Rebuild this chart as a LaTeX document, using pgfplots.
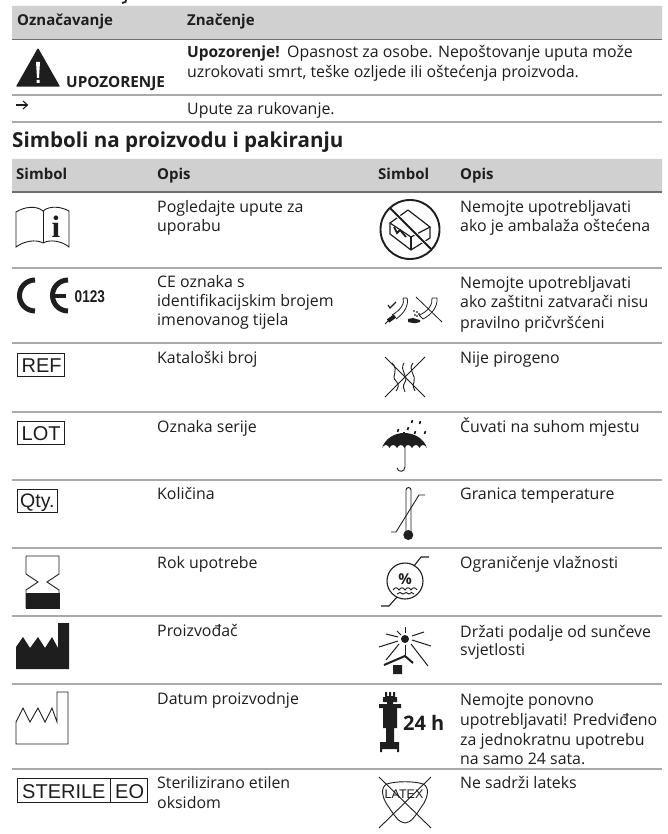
\documentclass[border=0pt]{standalone}
\usepackage{fontspec}
\setmainfont{Open Sans}
\newfontfamily\arialf{Liberation Sans}
\newfontfamily\serf{Liberation Serif}
\usepackage{pgfplots}
\pgfplotsset{compat=1.18}
\definecolor{band}{HTML}{D0D0D0}
\definecolor{rule}{HTML}{A9A9A9}
\definecolor{rulet}{HTML}{6E6E6E}
\definecolor{ink}{HTML}{1E1E1E}
\newcommand{\T}[3]{\node[anchor=base west,inner sep=0pt,text=ink,font=\fontsize{15.9}{17}\selectfont] at (axis cs:#1,#2) {#3};}
\newcommand{\B}[3]{\node[anchor=base west,inner sep=0pt,text=ink,font=\fontsize{15}{17}\selectfont\bfseries] at (axis cs:#1,#2) {#3};}
\newcommand{\A}[4]{\node[anchor=base west,inner sep=0pt,text=ink,font=\fontsize{#3}{#3}\selectfont\arialf] at (axis cs:#1,#2) {#4};}
\newcommand{\RR}[1]{\addplot[rule,line width=1.2pt] coordinates {(12,#1)(662,#1)};}
\begin{document}
\begin{tikzpicture}
\begin{axis}[hide axis,scale only axis,width=668pt,height=834pt,xmin=0,xmax=668,ymin=0,ymax=834,y dir=reverse,axis on top=false]
% page
\addplot[fill=white,draw=none] coordinates {(0,0)(668,0)(668,834)(0,834)(0,0)};
% bands
\addplot[fill=band,draw=none] coordinates {(12,6)(662,6)(662,39)(12,39)(12,6)};
\addplot[fill=band,draw=none] coordinates {(12,159)(662,159)(662,192)(12,192)(12,159)};
\addplot[rulet,line width=1.1pt] coordinates {(12,39.5)(662,39.5)};
\addplot[rulet,line width=1.1pt] coordinates {(12,192)(662,192)};
\addplot[rule,line width=1.1pt] coordinates {(12,95)(662,95)};
\addplot[rule,line width=1.1pt] coordinates {(12,122)(662,122)};
\RR{268}\RR{343}\RR{412}\RR{480}\RR{548}\RR{616}\RR{684}\RR{769}
% cut-off heading descender
\addplot[ink,line width=1.8pt] coordinates {(126,0)(125.5,2)(122,3)};
% header text
\B{17}{26}{Označavanje}
\B{187}{26}{Značenje}
\B{16}{180}{Simbol}
\B{157}{180}{Opis}
\B{378}{180}{Simbol}
\B{460}{180}{Opis}
\node[anchor=base west,inner sep=0pt,text=ink,font=\fontsize{20.6}{22}\selectfont\bfseries] at (axis cs:12,148) {Simboli na proizvodu i pakiranju};
% first table
\addplot[fill=ink,draw=ink,line width=1.2pt,line join=round] coordinates {(38,49)(59,86)(17,86)(38,49)};
\addplot[fill=white,draw=none] coordinates {(36,62)(40,62)(39,78)(37,78)(36,62)};
\addplot[fill=white,draw=none] coordinates {(36.5,80)(39.5,80)(39.5,83)(36.5,83)(36.5,80)};
\node[anchor=base west,inner sep=0pt,text=ink,font=\fontsize{15.3}{17}\selectfont\bfseries] at (axis cs:66,88) {UPOZORENJE};
\node[anchor=base west,inner sep=0pt,text=ink,font=\fontsize{15.5}{17}\selectfont\bfseries] at (axis cs:187,58) {Upozorenje!};
\T{287}{58}{Opasnost za osobe. Nepoštovanje uputa može}
\T{187}{78}{uzrokovati smrt, teške ozljede ili oštećenja proizvoda.}
\addplot[ink,line width=1.1pt] coordinates {(16,105)(27,105)};
\addplot[ink,line width=1.1pt] coordinates {(23,101)(27.5,105)(23,109)};
\T{187}{115}{Upute za rukovanje.}
% left text
\T{157}{212}{Pogledajte upute za}
\T{157}{232}{uporabu}
\T{157}{287}{CE oznaka s}
\T{157}{306}{identifikacijskim brojem}
\T{157}{325}{imenovanog tijela}
\T{157}{363}{Kataloški broj}
\T{157}{432}{Oznaka serije}
\T{157}{499}{Količina}
\T{157}{568}{Rok upotrebe}
\T{157}{636}{Proizvođač}
\T{157}{704}{Datum proizvodnje}
\T{157}{788}{Sterilizirano etilen}
\T{157}{808}{oksidom}
% right text
\T{460}{212}{Nemojte upotrebljavati}
\T{460}{232}{ako je ambalaža oštećena}
\T{460}{288}{Nemojte upotrebljavati}
\T{460}{307}{ako zaštitni zatvarači nisu}
\T{460}{328}{pravilno pričvršćeni}
\T{460}{363}{Nije pirogeno}
\T{460}{432}{Čuvati na suhom mjestu}
\T{460}{499}{Granica temperature}
\T{460}{568}{Ograničenje vlažnosti}
\T{460}{637}{Držati podalje od sunčeve}
\T{460}{655}{svjetlosti}
\T{460}{705}{Nemojte ponovno}
\T{460}{725}{upotrebljavati! Predviđeno}
\T{460}{745}{za jednokratnu upotrebu}
\T{460}{764}{na samo 24 sata.}
\T{460}{788}{Ne sadrži lateks}
% book
\draw[ink,line width=.9pt] (16,212) .. controls (24,207) and (36,205) .. (43,211) .. controls (50,205) and (62,207) .. (69,211) -- (69,247) .. controls (62,241) and (50,239) .. (43,243) .. controls (36,239) and (24,241) .. (16,247) -- cycle;
\addplot[ink,line width=.9pt] coordinates {(43,211)(43,243)};
\node[anchor=base,inner sep=0pt,text=ink,font=\fontsize{31}{31}\selectfont\serf\bfseries] at (axis cs:56,237) {i};
% CE
\draw[ink,line width=5pt] (35,280) arc[start angle=90,end angle=270,radius=15.5pt];
\draw[ink,line width=5pt] (68,280) arc[start angle=90,end angle=270,radius=15.5pt];
\addplot[ink,line width=4pt] coordinates {(52,295.5)(66,295.5)};
\node[anchor=base west,inner sep=0pt,text=ink,font=\fontsize{17}{17}\selectfont\arialf\bfseries] at (axis cs:74.5,302) {\scalebox{0.8}[1]{0123}};
% boxes
\addplot[ink,line width=.8pt] coordinates {(17,353)(64,353)(64,376)(17,376)(17,353)};
\A{21.5}{372}{20}{REF}
\addplot[ink,line width=.8pt] coordinates {(17,421)(64,421)(64,444)(17,444)(17,421)};
\A{21.5}{440}{20}{LOT}
\addplot[ink,line width=.8pt] coordinates {(17,489)(57,489)(57,512)(17,512)(17,489)};
\A{20}{507}{19.5}{Qty.}
\addplot[ink,line width=.8pt] coordinates {(17,778)(147,778)(147,802)(17,802)(17,778)};
\addplot[ink,line width=.8pt] coordinates {(110,778)(110,802)};
\A{22}{798}{20}{STERILE}
\A{115}{798}{20}{EO}
% hourglass
\addplot[ink,line width=.9pt] coordinates {(26,556)(59,556)(59,574)(47,582)(59,590)(59,608)(26,608)(26,590)(38,582)(26,574)(26,556)};
\addplot[fill=ink,draw=ink] coordinates {(26,593)(59,593)(59,608)(26,608)(26,593)};
% factories
\addplot[fill=ink,draw=none] coordinates {(16,647)(23,637)(30,648)(38,637)(45,648)(52,637)(58,648)(58,623)(69,623)(69,669)(16,669)(16,647)};
\addplot[ink,line width=.9pt] coordinates {(16,722)(23,708)(30,722)(38,708)(45,722)(52,708)(57,722)(57,692)(68,692)(68,744)(16,744)(16,722)};
% no box
\draw[ink,line width=1.9pt] (axis cs:410,229.5) circle[radius=29.5pt];
\addplot[ink,line width=1.2pt] coordinates {(408,210)(430,227)(430,238)(411,250)(390,234)(390,223)(408,210)};
\addplot[ink,line width=1.2pt] coordinates {(390,223)(411,237)(430,227)};
\addplot[ink,line width=1.2pt] coordinates {(411,237)(411,250)};
\addplot[ink,line width=1.8pt] coordinates {(394,227)(397,233)(400,230)(406,237)};
\addplot[white,line width=3.6pt] coordinates {(392,210)(430,248)};
\addplot[ink,line width=1.9pt] coordinates {(390,208)(431,249)};
% caps
\addplot[ink,line width=1.2pt] coordinates {(388,305)(390,308)(396,302)};
\draw[ink,line width=.8pt] (403,298) .. controls (405,303) and (401,310) .. (392,315) (407,298) .. controls (409,304) and (405,313) .. (396,319) (403,298) -- (407,298);
\addplot[ink,line width=4pt] coordinates {(395,316)(388,321)};
\addplot[ink,line width=1pt] coordinates {(388,321)(385,324)};
\addplot[ink,line width=.8pt] coordinates {(416,297)(442,322)};
\draw[ink,line width=.8pt] (432,298) .. controls (433,304) and (428,312) .. (419,315) (437,298) .. controls (438,307) and (431,315) .. (423,319) -- (419,315) (432,298) -- (437,298);
\addplot[fill=ink,draw=none] coordinates {(408,319)(413,318)(416,319)(420,320)(420,322)(416,323)(413,323)(408,322)(408,319)};
\addplot[ink,only marks,mark=*,mark size=.6pt] coordinates {(415,315)(417,312)(414,311)(419,314)(417,316)};
% nonpyrogen
\addplot[ink,line width=1pt] coordinates {(385,357)(425,397)};
\addplot[ink,line width=1pt] coordinates {(425,357)(385,397)};
\draw[ink,line width=.9pt] (392,363) .. controls (400,371) and (390,376) .. (396,381) .. controls (400,385) and (398,388) .. (396,391);
\draw[ink,line width=.9pt] (404,363) .. controls (399,371) and (409,376) .. (405,382) .. controls (402,386) and (404,389) .. (405,392);
\draw[ink,line width=.9pt] (413,363) .. controls (407,370) and (417,376) .. (414,382) .. controls (412,386) and (414,389) .. (415,391);
% umbrella
\fill[ink] (382,448) .. controls (385,439) and (394,433) .. (404,433) .. controls (415,433) and (424,439) .. (427,448)
  .. controls (425,444) and (421,444) .. (419.5,448) .. controls (418,444) and (414,444) .. (412,448) .. controls (410,444) and (406,444) .. (404.5,448) .. controls (403,444) and (399,444) .. (397,448) .. controls (395,444) and (391,444) .. (389.5,448) .. controls (388,444) and (384,444) .. (382,448) -- cycle;
\draw[ink,line width=.9pt] (405,446) -- (405,467) .. controls (405,472) and (398,473) .. (397,468);
\addplot[ink,line width=1.6pt] coordinates {(411.6,423)(412.4,420)};
\addplot[ink,line width=1.6pt] coordinates {(419.6,424)(420.4,421)};
\addplot[ink,line width=1.6pt] coordinates {(397.6,432)(398.4,429)};
\addplot[ink,line width=1.6pt] coordinates {(407.6,430)(408.4,427)};
\addplot[ink,line width=1.6pt] coordinates {(414.6,434)(415.4,431)};
\addplot[ink,line width=1.6pt] coordinates {(424.6,434)(425.4,431)};
\addplot[ink,line width=1.2pt] coordinates {(404,433)(404,431.5)};
% thermometer
\draw[ink,line width=.9pt] (406,531) -- (406,490) arc[start angle=180,end angle=0,radius=2.5pt] -- (411,531);
\fill[ink] (axis cs:408.3,535) circle[radius=5pt];
\addplot[ink,line width=.9pt] coordinates {(391,532)(396,532)(419,495)(425,495)};
% humidity
\draw[ink,line width=1.1pt] (axis cs:405,581) circle[radius=18pt];
\addplot[ink,line width=1.1pt] coordinates {(381,606)(389,606)(397,597)};
\addplot[ink,line width=1.1pt] coordinates {(414,566)(421,557)(429,557)};
\node[anchor=base,inner sep=0pt,text=ink,font=\fontsize{15}{15}\selectfont\bfseries] at (axis cs:405,584) {\%};
\draw[ink,line width=.9pt] (393,590) .. controls (395,587) and (397,587) .. (399,590) .. controls (401,587) and (403,587) .. (405,590) .. controls (407,587) and (409,587) .. (411,590) .. controls (413,587) and (415,587) .. (417,590);
\draw[ink,line width=.9pt] (397,594) .. controls (399,592) and (401,592) .. (403,594) .. controls (405,592) and (407,592) .. (409,594) .. controls (411,592) and (412,592) .. (414,594);
% sun
\fill[ink] (axis cs:405,639) circle[radius=4pt];
\addplot[ink,line width=1pt] coordinates {(405.5,627)(405.5,633)};
\addplot[ink,line width=1pt] coordinates {(386,634)(398,637)};
\addplot[ink,line width=1pt] coordinates {(379,647)(398,641)};
\addplot[ink,line width=1pt] coordinates {(412,636)(424,632)};
\addplot[ink,line width=1pt] coordinates {(412,640)(431,646)};
\addplot[ink,line width=1pt] coordinates {(411,644)(428,666)};
\addplot[ink,line width=1pt] coordinates {(399,644)(386,660)};
\addplot[ink,line width=1pt] coordinates {(405,645)(405,655)};
\addplot[ink,line width=1pt] coordinates {(397,631)(401,635)};
\addplot[ink,line width=2pt] coordinates {(384,665)(405,656)(413,663)};
\addplot[fill=ink,draw=none] coordinates {(393,665)(402,665)(402,674)(393,674)(393,665)};
% single use syringe
\addplot[fill=ink,draw=none] coordinates {(385,692)(387,692)(387,696)(389,696)(389,692)(391,692)(391,696)(393,696)(393,692)(395,692)(395,697)(397,697)(397,702)(393,702)(393,704)(401,704)(401,708)(397,708)(397,728)(394,728)(394,742)(399,742)(399,752)(397,752)(397,749)(382,749)(382,752)(380,752)(380,742)(386,742)(386,728)(383,728)(383,708)(379,708)(379,704)(387,704)(387,702)(383,702)(383,697)(385,697)(385,692)};
\node[anchor=base west,inner sep=0pt,text=ink,font=\fontsize{20}{20}\selectfont\bfseries] at (axis cs:403,730) {24 h};
% latex
\addplot[ink,line width=.9pt] coordinates {(379,777)(431,828)};
\addplot[ink,line width=.9pt] coordinates {(431,777)(379,828)};
\draw[ink,line width=.9pt] (387,784) .. controls (395,781) and (415,781) .. (423,784) .. controls (430,787) and (428,798) .. (422,806) .. controls (416,815) and (411,823) .. (405,823) .. controls (399,823) and (394,815) .. (388,806) .. controls (382,798) and (380,787) .. (387,784) -- cycle;
\node[anchor=base,inner sep=0pt,text=ink,font=\fontsize{12.5}{12.5}\selectfont\arialf] at (axis cs:404,798) {LATEX};
\end{axis}
\end{tikzpicture}
\end{document}
